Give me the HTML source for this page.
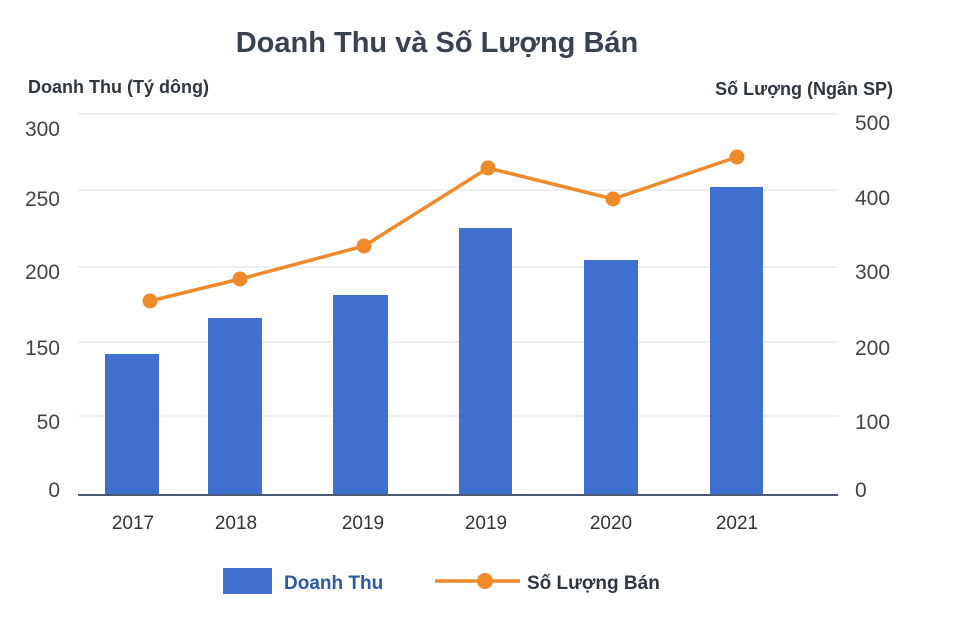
<!DOCTYPE html>
<html><head><meta charset="utf-8"><style>
html,body{margin:0;padding:0;background:#fff;}
svg{display:block;font-family:"Liberation Sans","DejaVu Sans",sans-serif;}
</style></head><body>
<svg width="960" height="640" viewBox="0 0 960 640">
<rect width="960" height="640" fill="#fff"/>
<text x="437" y="52" text-anchor="middle" font-size="29" font-weight="bold" fill="#3a4250">Doanh Thu và Số Lượng Bán</text>
<text x="28" y="93" font-size="18" font-weight="bold" fill="#2f3640">Doanh Thu (Tý dông)</text>
<text x="893" y="95" text-anchor="end" font-size="18" font-weight="bold" fill="#2f3640">Số Lượng (Ngân SP)</text>
<g stroke="#dcdfe4" stroke-width="1">
<line x1="78" y1="114" x2="838" y2="114"/>
<line x1="78" y1="190" x2="838" y2="190"/>
<line x1="78" y1="267" x2="838" y2="267"/>
<line x1="78" y1="342" x2="838" y2="342"/>
<line x1="78" y1="416" x2="838" y2="416"/>
</g>
<g font-size="21" fill="#444">
<text x="60" y="136" text-anchor="end">300</text>
<text x="60" y="206" text-anchor="end">250</text>
<text x="60" y="279" text-anchor="end">200</text>
<text x="60" y="355" text-anchor="end">150</text>
<text x="60" y="429" text-anchor="end">50</text>
<text x="60" y="497" text-anchor="end">0</text>
<text x="855" y="130">500</text>
<text x="855" y="205">400</text>
<text x="855" y="279">300</text>
<text x="855" y="355">200</text>
<text x="855" y="429">100</text>
<text x="855" y="497">0</text>
</g>
<g fill="#3f6fcf">
<rect x="105" y="354" width="54" height="141"/>
<rect x="208" y="318" width="54" height="177"/>
<rect x="333" y="295" width="55" height="200"/>
<rect x="459" y="228" width="53" height="267"/>
<rect x="584" y="260" width="54" height="235"/>
<rect x="710" y="187" width="53" height="308"/>
</g>
<line x1="78" y1="495" x2="838" y2="495" stroke="#4a5a75" stroke-width="2"/>
<polyline points="150,301 240,279 364,246 488,168 613,199 737,157" fill="none" stroke="#ef8a2c" stroke-width="3.5"/>
<g fill="#ef8a2c">
<circle cx="150" cy="301" r="7.5"/><circle cx="240" cy="279" r="7.5"/><circle cx="364" cy="246" r="7.5"/>
<circle cx="488" cy="168" r="7.5"/><circle cx="613" cy="199" r="7.5"/><circle cx="737" cy="157" r="7.5"/>
</g>
<g font-size="19" fill="#333" text-anchor="middle">
<text x="133" y="529">2017</text><text x="236" y="529">2018</text><text x="363" y="529">2019</text>
<text x="486" y="529">2019</text><text x="611" y="529">2020</text><text x="737" y="529">2021</text>
</g>
<rect x="223" y="568" width="49" height="26" fill="#3f6fcf"/>
<text x="284" y="589" font-size="19" font-weight="bold" fill="#2a5aa0">Doanh Thu</text>
<line x1="435" y1="581" x2="520" y2="581" stroke="#ef8a2c" stroke-width="3.5"/>
<circle cx="485" cy="581" r="8" fill="#ef8a2c"/>
<text x="527" y="589" font-size="19" font-weight="bold" fill="#2f3640">Số Lượng Bán</text>
</svg>
</body></html>
